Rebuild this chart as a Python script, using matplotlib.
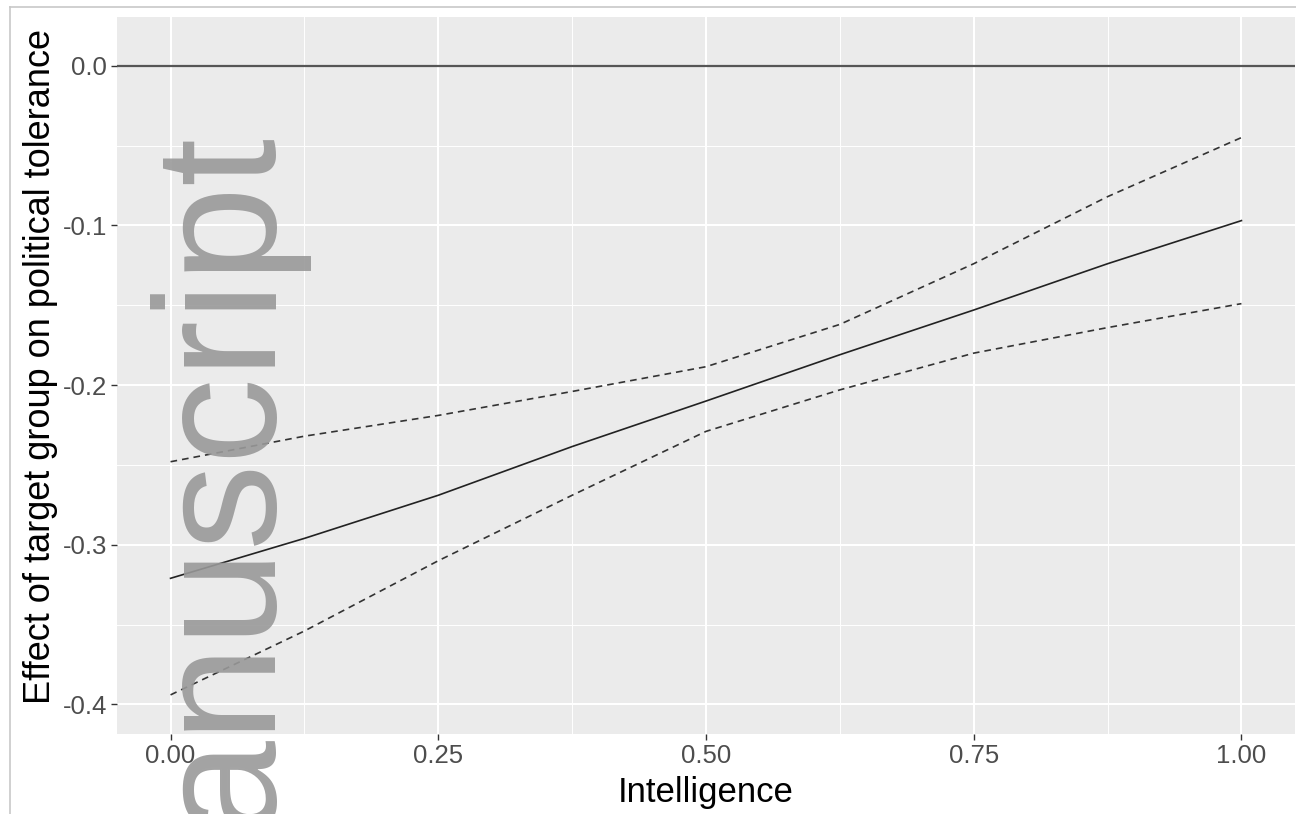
import matplotlib
matplotlib.use("Agg")
import matplotlib.pyplot as plt
import numpy as np

# values
intelligence = [0.0, 0.125, 0.25, 0.375, 0.5, 0.625, 0.75, 0.875, 1.0]
effect = [-0.321, -0.296, -0.269, -0.2385, -0.210, -0.181, -0.153, -0.124, -0.097]
upper_ci = [-0.248, -0.232, -0.219, -0.204, -0.1885, -0.162, -0.124, -0.082, -0.045]
lower_ci = [-0.394, -0.354, -0.310, -0.269, -0.229, -0.203, -0.180, -0.164, -0.149]
x_ticks = [0.0, 0.25, 0.5, 0.75, 1.0]
x_labels = ["0.00", "0.25", "0.50", "0.75", "1.00"]
y_ticks = [0.0, -0.1, -0.2, -0.3, -0.4]
y_labels = ["0.0", "-0.1", "-0.2", "-0.3", "-0.4"]

plt.rcParams['font.family'] = ['Liberation Sans', 'DejaVu Sans']

W, H = 1296, 814
fig = plt.figure(figsize=(W / 100, H / 100), dpi=100)
ax = fig.add_axes([117 / W, 1 - 734 / H, (1295 - 117) / W, (734 - 17) / H])

# ggplot-like panel
ax.set_facecolor('#ebebeb')
for s in ax.spines.values():
    s.set_visible(False)
ax.set_xlim(-0.05, 1.05)
ax.set_ylim(-0.4185, 0.0305)

ax.set_xticks(x_ticks)
ax.set_xticklabels(x_labels)
ax.set_yticks(y_ticks)
ax.set_yticklabels(y_labels)
ax.set_xticks([0.125, 0.375, 0.625, 0.875], minor=True)
ax.set_yticks([-0.05, -0.15, -0.25, -0.35], minor=True)
ax.grid(True, which='major', color='white', linewidth=1.5)
ax.grid(True, which='minor', color='white', linewidth=0.7)
ax.set_axisbelow(True)
ax.tick_params(which='major', length=4, width=1, color='#333333',
               labelcolor='#4d4d4d', labelsize=18.5, pad=3)
ax.tick_params(which='minor', length=0)

ax.axhline(0, color='#555555', linewidth=1.6)
ax.plot(intelligence, effect, color='#222222', linewidth=1.2)
ax.plot(intelligence, upper_ci, color='#333333', linewidth=1.2, linestyle=(0, (4, 3)))
ax.plot(intelligence, lower_ci, color='#333333', linewidth=1.2, linestyle=(0, (4, 3)))

ax.set_xlabel('Intelligence', fontsize=25, labelpad=6)
ax.set_ylabel('Effect of target group on political tolerance', fontsize=26)
ax.yaxis.set_label_coords((58 - 117) / 1178, (734 - 366) / 717)

# thin frame around the figure
fig.add_artist(plt.Line2D([10 / W, 1], [1 - 7 / H, 1 - 7 / H], color='#c8c8c8', linewidth=1.2))
fig.add_artist(plt.Line2D([10 / W, 10 / W], [0, 1 - 7 / H], color='#c8c8c8', linewidth=1.2))

# watermark
fig.text(269 / W, 1 - 829 / H, 'anuscript', rotation=90, rotation_mode='anchor',
         ha='left', va='baseline', fontsize=124, color='#999999', alpha=0.9)

fig.savefig('out.png', dpi=100)
